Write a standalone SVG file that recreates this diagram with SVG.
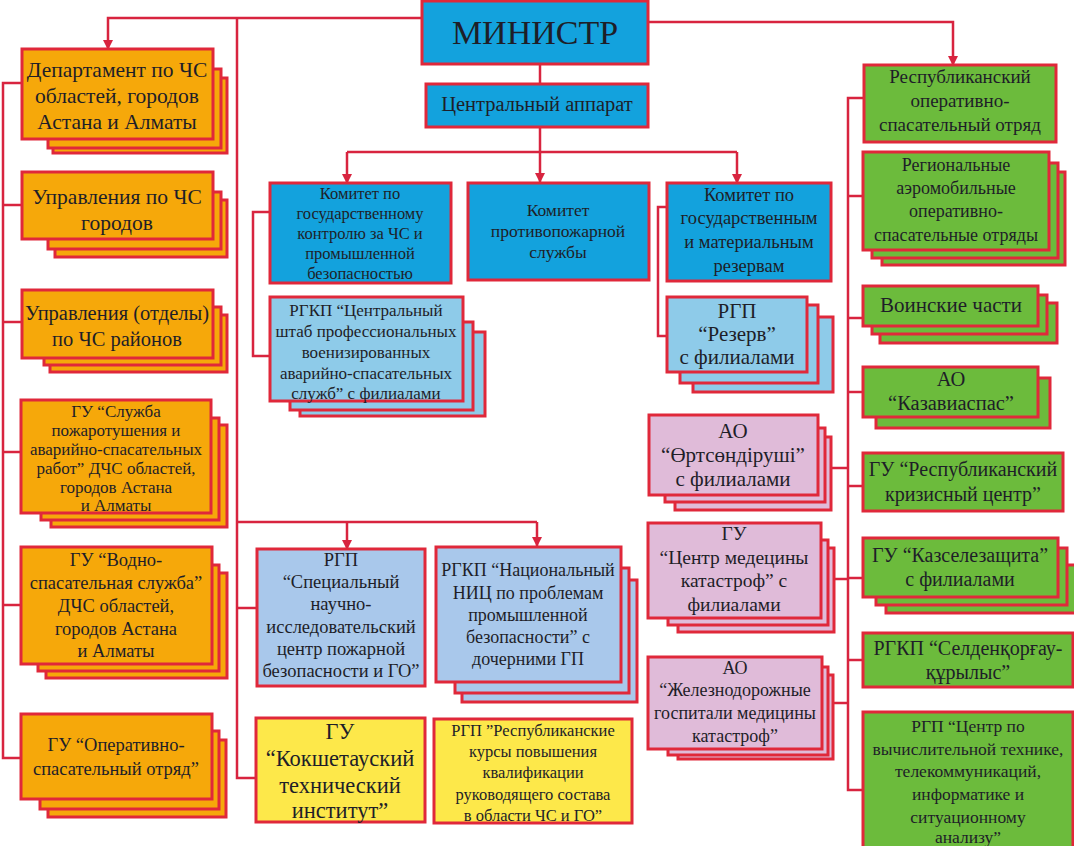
<svg xmlns="http://www.w3.org/2000/svg" width="1074" height="846" viewBox="0 0 1074 846">
<defs>
<marker id="ah" viewBox="0 0 10 10" refX="9" refY="5" markerWidth="10" markerHeight="10" markerUnits="userSpaceOnUse" orient="auto">
<path d="M0,0 L10,5 L0,10 Z" fill="#d8243f"/>
</marker>
<style>
rect{stroke:#e0283a;stroke-width:3}
.bl{fill:#13a2dd}
.lb{fill:#8ecbe9}
.lv{fill:#a9c8eb}
.or{fill:#f6a80a}
.gr{fill:#6cbb3c}
.pk{fill:#e0bbd9}
.ye{fill:#fde84a}
.c path,.c polyline,.c line{fill:none;stroke:#d8243f;stroke-width:2.5}
</style>
</defs>
<rect width="1074" height="846" fill="#ffffff" style="stroke:none"/>

<g class="c" id="connectors">
<polyline points="422,18 108,18 108,49" marker-end="url(#ah)"/>
<polyline points="648,22 953,22 953,65" marker-end="url(#ah)"/>
<line x1="540" y1="64" x2="540" y2="84"/>
<line x1="540" y1="127" x2="540" y2="182" marker-end="url(#ah)"/>
<polyline points="347,152 737,152"/>
<line x1="347" y1="152" x2="347" y2="183" marker-end="url(#ah)"/>
<line x1="737" y1="152" x2="737" y2="183" marker-end="url(#ah)"/>
<polyline points="237,18 237,778 256,778"/>
<polyline points="237,522 537,522"/>
<line x1="347" y1="522" x2="347" y2="549" marker-end="url(#ah)"/>
<line x1="537" y1="522" x2="537" y2="546" marker-end="url(#ah)"/>
<line x1="237" y1="608" x2="257" y2="608"/>
<polyline points="22,83 3,83 3,758 22,758"/>
<line x1="3" y1="205" x2="22" y2="205"/>
<line x1="3" y1="322" x2="22" y2="322"/>
<line x1="3" y1="452" x2="22" y2="452"/>
<line x1="3" y1="605" x2="22" y2="605"/>
<polyline points="270,212 253,212 253,356 270,356"/>
<polyline points="667,207 658,207 658,336 667,336"/>
<polyline points="863,98 848,98 848,790 863,790"/>
<line x1="848" y1="196" x2="863" y2="196"/>
<line x1="848" y1="318" x2="863" y2="318"/>
<line x1="848" y1="392" x2="863" y2="392"/>
<line x1="848" y1="486" x2="863" y2="486"/>
<line x1="848" y1="578" x2="863" y2="578"/>
<line x1="848" y1="660" x2="863" y2="660"/>
<line x1="831" y1="468" x2="848" y2="468"/>
<line x1="834" y1="579" x2="848" y2="579"/>
<line x1="833" y1="703" x2="848" y2="703"/>
</g>

<g id="minister">
<rect class="bl" x="422" y="1" width="226" height="63"/>
<text font-family="Liberation Serif" text-anchor="middle" fill="#1e1e28" x="535" y="44" font-size="34">МИНИСТР</text>
</g>
<g id="central">
<rect class="bl" x="426" y="84" width="222" height="43"/>
<text font-family="Liberation Serif" text-anchor="middle" fill="#1e1e28" x="537" y="111" font-size="20.5">Центральный аппарат</text>
</g>

<g id="kom-control">
<rect class="bl" x="270" y="183" width="181" height="100"/>
<text font-family="Liberation Serif" text-anchor="middle" fill="#1e1e28" font-size="16.5" x="360" y="199">Комитет по</text>
<text font-family="Liberation Serif" text-anchor="middle" fill="#1e1e28" font-size="16.5" x="360" y="219">государственному</text>
<text font-family="Liberation Serif" text-anchor="middle" fill="#1e1e28" font-size="16.5" x="360" y="239">контролю за ЧС и</text>
<text font-family="Liberation Serif" text-anchor="middle" fill="#1e1e28" font-size="16.5" x="360" y="259">промышленной</text>
<text font-family="Liberation Serif" text-anchor="middle" fill="#1e1e28" font-size="16.5" x="360" y="279">безопасностью</text>
</g>
<g id="kom-fire">
<rect class="bl" x="468" y="183" width="181" height="97"/>
<text font-family="Liberation Serif" text-anchor="middle" fill="#1e1e28" font-size="17.5" x="558" y="216">Комитет</text>
<text font-family="Liberation Serif" text-anchor="middle" fill="#1e1e28" font-size="17.5" x="558" y="237">противопожарной</text>
<text font-family="Liberation Serif" text-anchor="middle" fill="#1e1e28" font-size="17.5" x="558" y="258">службы</text>
</g>
<g id="kom-reserve">
<rect class="bl" x="667" y="183" width="164" height="98"/>
<text font-family="Liberation Serif" text-anchor="middle" fill="#1e1e28" font-size="18.5" x="749" y="201">Комитет по</text>
<text font-family="Liberation Serif" text-anchor="middle" fill="#1e1e28" font-size="18.5" x="749" y="224">государственным</text>
<text font-family="Liberation Serif" text-anchor="middle" fill="#1e1e28" font-size="18.5" x="749" y="248">и материальным</text>
<text font-family="Liberation Serif" text-anchor="middle" fill="#1e1e28" font-size="18.5" x="749" y="272">резервам</text>
</g>

<g id="rgkp-shtab">
<rect class="lb" x="300" y="332" width="185" height="84"/>
<rect class="lb" x="290" y="322" width="183" height="88"/>
<rect class="lb" x="270" y="297" width="193" height="104"/>
<text font-family="Liberation Serif" text-anchor="middle" fill="#1e1e28" font-size="17" x="366" y="316">РГКП “Центральный</text>
<text font-family="Liberation Serif" text-anchor="middle" fill="#1e1e28" font-size="17" x="366" y="337">штаб профессиональных</text>
<text font-family="Liberation Serif" text-anchor="middle" fill="#1e1e28" font-size="17" x="366" y="358">военизированных</text>
<text font-family="Liberation Serif" text-anchor="middle" fill="#1e1e28" font-size="17" x="366" y="379">аварийно-спасательных</text>
<text font-family="Liberation Serif" text-anchor="middle" fill="#1e1e28" font-size="17" x="366" y="399">служб” с филиалами</text>
</g>
<g id="rgp-reserve">
<rect class="lb" x="693" y="317" width="140" height="75"/>
<rect class="lb" x="680" y="305" width="138" height="78"/>
<rect class="lb" x="667" y="297" width="140" height="75"/>
<text font-family="Liberation Serif" text-anchor="middle" fill="#1e1e28" font-size="21" x="737" y="318">РГП</text>
<text font-family="Liberation Serif" text-anchor="middle" fill="#1e1e28" font-size="21" x="737" y="341">“Резерв”</text>
<text font-family="Liberation Serif" text-anchor="middle" fill="#1e1e28" font-size="21" x="737" y="364">с филиалами</text>
</g>

<g id="dep">
<rect class="or" x="53" y="78" width="174" height="75"/>
<rect class="or" x="48" y="69" width="173" height="79"/>
<rect class="or" x="22" y="49" width="191" height="90"/>
<text font-family="Liberation Serif" text-anchor="middle" fill="#1e1e28" font-size="21.5" x="117" y="77">Департамент по ЧС</text>
<text font-family="Liberation Serif" text-anchor="middle" fill="#1e1e28" font-size="21.5" x="117" y="103">областей, городов</text>
<text font-family="Liberation Serif" text-anchor="middle" fill="#1e1e28" font-size="21.5" x="117" y="129">Астана и Алматы</text>
</g>
<g id="upr-gorodov">
<rect class="or" x="55" y="200" width="172" height="57"/>
<rect class="or" x="48" y="192" width="173" height="57"/>
<rect class="or" x="22" y="172" width="191" height="67"/>
<text font-family="Liberation Serif" text-anchor="middle" fill="#1e1e28" font-size="21.5" x="117" y="204">Управления по ЧС</text>
<text font-family="Liberation Serif" text-anchor="middle" fill="#1e1e28" font-size="21.5" x="117" y="230">городов</text>
</g>
<g id="upr-rayonov">
<rect class="or" x="50" y="315" width="177" height="57"/>
<rect class="or" x="44" y="307" width="177" height="58"/>
<rect class="or" x="22" y="290" width="191" height="68"/>
<text font-family="Liberation Serif" text-anchor="middle" fill="#1e1e28" font-size="20.5" x="117" y="320">Управления (отделы)</text>
<text font-family="Liberation Serif" text-anchor="middle" fill="#1e1e28" font-size="20.5" x="117" y="346">по ЧС районов</text>
</g>
<g id="gu-pozhar">
<rect class="or" x="51" y="425" width="176" height="102"/>
<rect class="or" x="41" y="418" width="178" height="102"/>
<rect class="or" x="21" y="400" width="190" height="113"/>
<text font-family="Liberation Serif" text-anchor="middle" fill="#1e1e28" font-size="17" x="116" y="417">ГУ “Служба</text>
<text font-family="Liberation Serif" text-anchor="middle" fill="#1e1e28" font-size="17" x="116" y="436">пожаротушения и</text>
<text font-family="Liberation Serif" text-anchor="middle" fill="#1e1e28" font-size="17" x="116" y="455">аварийно-спасательных</text>
<text font-family="Liberation Serif" text-anchor="middle" fill="#1e1e28" font-size="17" x="116" y="474">работ” ДЧС областей,</text>
<text font-family="Liberation Serif" text-anchor="middle" fill="#1e1e28" font-size="17" x="116" y="493">городов Астана</text>
<text font-family="Liberation Serif" text-anchor="middle" fill="#1e1e28" font-size="17" x="116" y="511">и Алматы</text>
</g>
<g id="gu-vodno">
<rect class="or" x="46" y="573" width="181" height="105"/>
<rect class="or" x="38" y="565" width="181" height="106"/>
<rect class="or" x="21" y="547" width="191" height="117"/>
<text font-family="Liberation Serif" text-anchor="middle" fill="#1e1e28" font-size="18.5" x="116" y="566">ГУ “Водно-</text>
<text font-family="Liberation Serif" text-anchor="middle" fill="#1e1e28" font-size="18.5" x="116" y="589">спасательная служба”</text>
<text font-family="Liberation Serif" text-anchor="middle" fill="#1e1e28" font-size="18.5" x="116" y="612">ДЧС областей,</text>
<text font-family="Liberation Serif" text-anchor="middle" fill="#1e1e28" font-size="18.5" x="116" y="635">городов Астана</text>
<text font-family="Liberation Serif" text-anchor="middle" fill="#1e1e28" font-size="18.5" x="116" y="657">и Алматы</text>
</g>
<g id="gu-oper">
<rect class="or" x="48" y="740" width="178" height="77"/>
<rect class="or" x="40" y="731" width="179" height="78"/>
<rect class="or" x="21" y="714" width="191" height="85"/>
<text font-family="Liberation Serif" text-anchor="middle" fill="#1e1e28" font-size="18.5" x="116" y="751">ГУ “Оперативно-</text>
<text font-family="Liberation Serif" text-anchor="middle" fill="#1e1e28" font-size="18.5" x="116" y="775">спасательный отряд”</text>
</g>

<g id="rgp-spec">
<rect class="lv" x="257" y="549" width="168" height="137"/>
<text font-family="Liberation Serif" text-anchor="middle" fill="#1e1e28" font-size="18.5" x="341" y="566">РГП</text>
<text font-family="Liberation Serif" text-anchor="middle" fill="#1e1e28" font-size="18.5" x="341" y="588">“Специальный</text>
<text font-family="Liberation Serif" text-anchor="middle" fill="#1e1e28" font-size="18.5" x="341" y="610">научно-</text>
<text font-family="Liberation Serif" text-anchor="middle" fill="#1e1e28" font-size="18.5" x="341" y="633">исследовательский</text>
<text font-family="Liberation Serif" text-anchor="middle" fill="#1e1e28" font-size="18.5" x="341" y="655">центр пожарной</text>
<text font-family="Liberation Serif" text-anchor="middle" fill="#1e1e28" font-size="18.5" x="341" y="677">безопасности и ГО”</text>
</g>
<g id="rgkp-nic">
<rect class="lv" x="462" y="580" width="175" height="122"/>
<rect class="lv" x="455" y="568" width="174" height="125"/>
<rect class="lv" x="436" y="547" width="185" height="135"/>
<text font-family="Liberation Serif" text-anchor="middle" fill="#1e1e28" font-size="18" x="528" y="576">РГКП “Национальный</text>
<text font-family="Liberation Serif" text-anchor="middle" fill="#1e1e28" font-size="18" x="528" y="599">НИЦ по проблемам</text>
<text font-family="Liberation Serif" text-anchor="middle" fill="#1e1e28" font-size="18" x="528" y="621">промышленной</text>
<text font-family="Liberation Serif" text-anchor="middle" fill="#1e1e28" font-size="18" x="528" y="643">безопасности” с</text>
<text font-family="Liberation Serif" text-anchor="middle" fill="#1e1e28" font-size="18" x="528" y="665">дочерними ГП</text>
</g>
<g id="gu-kokshetau">
<rect class="ye" x="256" y="718" width="169" height="104"/>
<text font-family="Liberation Serif" text-anchor="middle" fill="#1e1e28" font-size="22.5" x="340" y="739">ГУ</text>
<text font-family="Liberation Serif" text-anchor="middle" fill="#1e1e28" font-size="22.5" x="340" y="766">“Кокшетауский</text>
<text font-family="Liberation Serif" text-anchor="middle" fill="#1e1e28" font-size="22.5" x="340" y="793">технический</text>
<text font-family="Liberation Serif" text-anchor="middle" fill="#1e1e28" font-size="22.5" x="340" y="818">институт”</text>
</g>
<g id="rgp-kursy">
<rect class="ye" x="434" y="719" width="198" height="104"/>
<text font-family="Liberation Serif" text-anchor="middle" fill="#1e1e28" font-size="16.5" x="533" y="736">РГП ”Республиканские</text>
<text font-family="Liberation Serif" text-anchor="middle" fill="#1e1e28" font-size="16.5" x="533" y="757">курсы повышения</text>
<text font-family="Liberation Serif" text-anchor="middle" fill="#1e1e28" font-size="16.5" x="533" y="778">квалификации</text>
<text font-family="Liberation Serif" text-anchor="middle" fill="#1e1e28" font-size="16.5" x="533" y="800">руководящего состава</text>
<text font-family="Liberation Serif" text-anchor="middle" fill="#1e1e28" font-size="16.5" x="533" y="821">в области ЧС и ГО”</text>
</g>

<g id="ao-ortsond">
<rect class="pk" x="675" y="437" width="156" height="73"/>
<rect class="pk" x="665" y="428" width="160" height="74"/>
<rect class="pk" x="649" y="415" width="169" height="80"/>
<text font-family="Liberation Serif" text-anchor="middle" fill="#1e1e28" font-size="21"><tspan x="733" y="438">АО</tspan><tspan x="733" y="462">“Өртсөндіруші”</tspan><tspan x="733" y="486">с филиалами</tspan></text>
</g>
<g id="gu-medicine">
<rect class="pk" x="678" y="548" width="156" height="84"/>
<rect class="pk" x="668" y="540" width="160" height="85"/>
<rect class="pk" x="648" y="523" width="173" height="95"/>
<text font-family="Liberation Serif" text-anchor="middle" fill="#1e1e28" font-size="19.5"><tspan x="734" y="540">ГУ</tspan><tspan x="734" y="564">“Центр медецины</tspan><tspan x="734" y="587">катастроф” с</tspan><tspan x="734" y="611">филиалами</tspan></text>
</g>
<g id="ao-railway">
<rect class="pk" x="678" y="675" width="155" height="84"/>
<rect class="pk" x="668" y="667" width="160" height="88"/>
<rect class="pk" x="648" y="657" width="174" height="92"/>
<text font-family="Liberation Serif" text-anchor="middle" fill="#1e1e28" font-size="18"><tspan x="735" y="674">АО</tspan><tspan x="735" y="696">“Железнодорожные</tspan><tspan x="735" y="719">госпитали медицины</tspan><tspan x="735" y="742">катастроф”</tspan></text>
</g>

<g id="r-otryad">
<rect class="gr" x="864" y="65" width="192" height="77"/>
<text font-family="Liberation Serif" text-anchor="middle" fill="#1e1e28" font-size="19"><tspan x="960" y="83">Республиканский</tspan><tspan x="960" y="107">оперативно-</tspan><tspan x="960" y="131">спасательный отряд</tspan></text>
</g>
<g id="r-aero">
<rect class="gr" x="882" y="172" width="183" height="93"/>
<rect class="gr" x="872" y="163" width="186" height="95"/>
<rect class="gr" x="863" y="152" width="186" height="98"/>
<text font-family="Liberation Serif" text-anchor="middle" fill="#1e1e28" font-size="18"><tspan x="956" y="171">Региональные</tspan><tspan x="956" y="194">аэромобильные</tspan><tspan x="956" y="217">оперативно-</tspan><tspan x="956" y="241">спасательные отряды</tspan></text>
</g>
<g id="r-voin">
<rect class="gr" x="880" y="303" width="177" height="40"/>
<rect class="gr" x="872" y="295" width="175" height="39"/>
<rect class="gr" x="863" y="286" width="175" height="40"/>
<text font-family="Liberation Serif" text-anchor="middle" fill="#1e1e28" font-size="21" x="951" y="312">Воинские части</text>
</g>
<g id="r-kazavia">
<rect class="gr" x="876" y="378" width="174" height="50"/>
<rect class="gr" x="863" y="367" width="175" height="50"/>
<text font-family="Liberation Serif" text-anchor="middle" fill="#1e1e28" font-size="20.5"><tspan x="951" y="386">АО</tspan><tspan x="951" y="410">“Казавиаспас”</tspan></text>
</g>
<g id="r-krizis">
<rect class="gr" x="863" y="453" width="200" height="58"/>
<text font-family="Liberation Serif" text-anchor="middle" fill="#1e1e28" font-size="20"><tspan x="963" y="476">ГУ “Республиканский</tspan><tspan x="963" y="501">кризисный центр”</tspan></text>
</g>
<g id="r-kazsel">
<rect class="gr" x="886" y="565" width="195" height="48"/>
<rect class="gr" x="876" y="548" width="191" height="57"/>
<rect class="gr" x="863" y="538" width="195" height="59"/>
<text font-family="Liberation Serif" text-anchor="middle" fill="#1e1e28" font-size="20"><tspan x="960" y="562">ГУ “Казселезащита”</tspan><tspan x="960" y="586">с филиалами</tspan></text>
</g>
<g id="r-selden">
<rect class="gr" x="863" y="633" width="210" height="54"/>
<text font-family="Liberation Serif" text-anchor="middle" fill="#1e1e28" font-size="20"><tspan x="968" y="655">РГКП “Селденқорғау-</tspan><tspan x="968" y="679">құрылыс”</tspan></text>
</g>
<g id="r-vych">
<rect class="gr" x="863" y="712" width="210" height="145"/>
<text font-family="Liberation Serif" text-anchor="middle" fill="#1e1e28" font-size="17.5"><tspan x="968" y="732">РГП “Центр по</tspan><tspan x="968" y="755">вычислительной технике,</tspan><tspan x="968" y="777">телекоммуникаций,</tspan><tspan x="968" y="800">информатике и</tspan><tspan x="968" y="823">ситуационному</tspan><tspan x="968" y="843">анализу”</tspan></text>
</g>
</svg>
